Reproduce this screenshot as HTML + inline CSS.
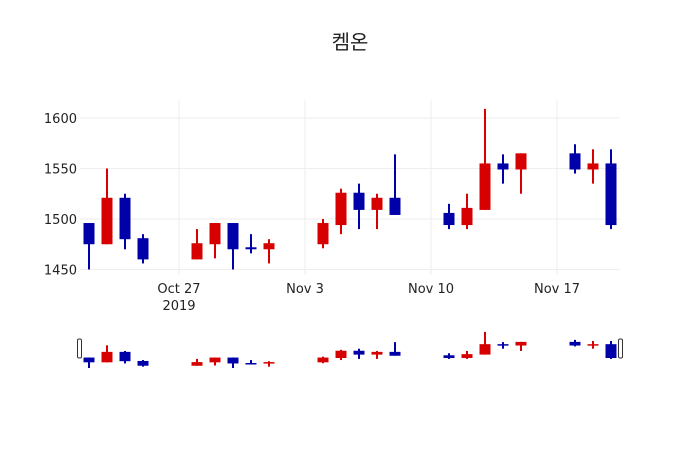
<!DOCTYPE html>
<html><head><meta charset="utf-8">
<style>
body{margin:0;background:#fff;}
svg{display:block;font-family:"DejaVu Sans","Liberation Sans","Noto Sans CJK KR",sans-serif;}
</style></head>
<body>
<svg id="chart" width="700" height="450" viewBox="0 0 700 450" xmlns="http://www.w3.org/2000/svg">
<rect width="700" height="450" fill="#fff"/>
<text x="350" y="49" text-anchor="middle" font-size="20" fill="#222" font-family="'Noto Sans CJK KR',sans-serif">켐온</text>
<g id="grid"></g>
<g id="yticks"></g>
<g id="xticks"></g>
<g id="candles"></g>
<g id="slider"></g>
</svg>
<script>
// dates as day offset from Oct 27 2019
const days = [-5,-4,-3,-2,1,2,3,4,5,8,9,10,11,12,15,16,17,18,19,22,23,24];
const opens = [1496,1475,1521,1481,1460,1475,1496,1472,1470,1475,1494,1526,1509,1521,1506,1494,1509,1555,1549,1565,1549,1555];
const highs = [1496,1550,1525,1485,1490,1496,1496,1485,1480,1500,1530,1535,1525,1564,1515,1525,1609,1564,1565,1574,1569,1569];
const lows  = [1450,1475,1470,1456,1460,1461,1450,1466,1456,1471,1485,1490,1490,1504,1490,1490,1509,1535,1525,1545,1535,1490];
const closes= [1475,1521,1480,1460,1476,1496,1470,1470,1476,1496,1526,1509,1521,1504,1494,1511,1555,1549,1565,1549,1555,1494];
const yTicks = [1450,1500,1550,1600];
const xTickDays = [0,7,14,21];
const xTickLabels = ["Oct 27","Nov 3","Nov 10","Nov 17"];

const NS="http://www.w3.org/2000/svg";
const X0=80,X1=620,D0=-5.5,D1=24.5;
const Y0=100,Y1=270,V0=1449.5,V1=1617.8;
const x=d=>X0+(d-D0)/(D1-D0)*(X1-X0);
const y=v=>Y1-(v-V0)/(V1-V0)*(Y1-Y0);
const sy=v=>368-(v-1450)*0.227;
function mk(tag,attrs,parent){const e=document.createElementNS(NS,tag);for(const k in attrs)e.setAttribute(k,attrs[k]);parent.appendChild(e);return e;}
const grid=document.getElementById('grid'),yt=document.getElementById('yticks'),xt=document.getElementById('xticks'),cg=document.getElementById('candles'),sg=document.getElementById('slider');
yTicks.forEach(v=>{
  const l=mk('line',{x1:X0,x2:X1,y1:y(v),y2:y(v),stroke:'#eee','stroke-width':1},grid);
  
  
  const t=mk('text',{x:X0-3,y:y(v)+5,'text-anchor':'end','font-size':13,fill:'#222'},yt);
  t.textContent=v;
  
  
});
xTickDays.forEach((d,i)=>{
  const l=mk('line',{x1:x(d),x2:x(d),y1:Y0,y2:Y1,stroke:'#eee','stroke-width':1},grid);
  
  
  const tk=mk('line',{x1:x(d),x2:x(d),y1:Y1,y2:Y1+5,stroke:'#eee','stroke-width':1},xt);
  
  
  const t=mk('text',{x:x(d),y:293,'text-anchor':'middle','font-size':13,fill:'#222'},xt);
  t.textContent=xTickLabels[i];
  
  
});
const yr=mk('text',{x:x(0),y:310,'text-anchor':'middle','font-size':13,fill:'#222'},xt);
yr.textContent='2019';


function candle(i,parent,fy,bw,ww){
  const up=closes[i]>=opens[i];const c=up?'#d60000':'#0000a8';
  const g=mk('g',{},parent);
  
  
  const cx=x(days[i]);
  mk('line',{x1:cx,x2:cx,y1:fy(highs[i]),y2:fy(lows[i]),stroke:c,'stroke-width':ww},g);
  const top=fy(Math.max(opens[i],closes[i])),bot=fy(Math.min(opens[i],closes[i]));
  mk('rect',{x:cx-bw/2,y:top,width:bw,height:Math.max(bot-top,1.5),fill:c},g);
}
days.forEach((d,i)=>{candle(i,cg,y,11,2);candle(i,sg,sy,11,2);});
[79,620].forEach(hx=>{
  const h=mk('rect',{x:hx-1.5,y:339,width:4,height:19,rx:1.5,fill:'#fff',stroke:'#333','stroke-width':1},sg);
  
  
});
</script>
</body></html>
